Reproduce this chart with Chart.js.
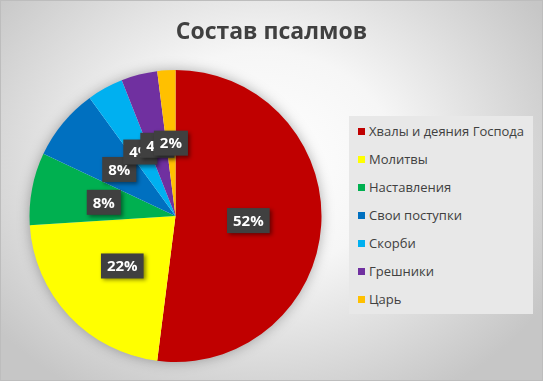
<!DOCTYPE html>
<html><head><meta charset="utf-8">
<script src="https://cdn.jsdelivr.net/npm/chart.js@4/dist/chart.umd.min.js"></script>
<style>
html,body{margin:0;padding:0;}
#wrap{position:relative;width:543px;height:381px;box-sizing:border-box;border:1px solid #bdbdbd;
background:radial-gradient(ellipse 62% 72% at 48% 42%, #ffffff 0%, #f6f6f6 40%, #c6c6c6 100%);overflow:hidden;font-family:"Open Sans","Noto Sans",sans-serif;}
#title{position:absolute;left:-1px;width:543px;top:13px;text-align:center;font-size:23px;font-weight:bold;color:#404040;}
#legend{position:absolute;left:348px;top:115px;width:184px;height:198px;background:#e8e8e8;}
.li{position:absolute;left:9px;font-size:13px;color:#404040;white-space:nowrap;line-height:16px;}
.sw{display:inline-block;width:7px;height:7px;margin-right:4px;vertical-align:1px;}
canvas{position:absolute;left:-1px;top:-1px;}
</style></head>
<body>
<div id="wrap">
<canvas id="c" width="543" height="381"></canvas>
<div id="title">Состав псалмов</div>
<div id="legend"></div>
</div>
<script>
const categories = ["Хвалы и деяния Господа","Молитвы","Наставления","Свои поступки","Скорби","Грешники","Царь"];
const values = [78, 33, 12, 12, 6, 6, 3];
const colors = ["#C00000","#FFFF00","#00B050","#0070C0","#00B0F0","#7030A0","#FFC000"];

const leg = document.getElementById('legend');
categories.forEach((c,i)=>{
  const d=document.createElement('div');d.className='li';d.style.top=(7+i*28)+'px';
  d.innerHTML='<span class="sw" style="background:'+colors[i]+'"></span>'+c;
  leg.appendChild(d);
});

const shadowPlugin = {
  id:'pieShadow',
  beforeDatasetsDraw(chart){
    const a=chart.getDatasetMeta(0).data[0];
    const ctx=chart.ctx;
    ctx.save();
    ctx.shadowColor='rgba(0,0,0,0.35)';ctx.shadowBlur=14;
    ctx.fillStyle='#ffffff';
    ctx.beginPath();ctx.arc(a.x,a.y,a.outerRadius-1,0,Math.PI*2);ctx.fill();
    ctx.restore();
  }
};

const labelPlugin = {
  id:'boxLabels',
  afterDatasetsDraw(chart){
    const ctx=chart.ctx;
    const meta=chart.getDatasetMeta(0);
    const total=values.reduce((a,b)=>a+b,0);
    ctx.save();
    ctx.font='bold 15px "Open Sans","Noto Sans",sans-serif';
    ctx.textAlign='center';ctx.textBaseline='middle';
    meta.data.forEach((arc,i)=>{
      const p=arc.tooltipPosition();
      const txt=Math.round(values[i]/total*100)+'%';
      const w=ctx.measureText(txt).width+12, h=25;
      ctx.save();
      ctx.shadowColor='rgba(0,0,0,0.45)';ctx.shadowBlur=4;ctx.shadowOffsetX=2;ctx.shadowOffsetY=2;
      ctx.fillStyle='#404040';
      ctx.fillRect(p.x-w/2,p.y-h/2,w,h);
      ctx.restore();
      ctx.fillStyle='#ffffff';
      ctx.fillText(txt,p.x,p.y+1);
    });
    ctx.restore();
  }
};

new Chart(document.getElementById('c'),{
  type:'pie',
  data:{labels:categories,datasets:[{data:values,backgroundColor:colors,borderWidth:0}]},
  options:{
    responsive:false,animation:false,
    layout:{padding:{left:29,right:221,top:70,bottom:19}},
    plugins:{legend:{display:false},tooltip:{enabled:false}}
  },
  plugins:[shadowPlugin,labelPlugin]
});
</script>
</body></html>
